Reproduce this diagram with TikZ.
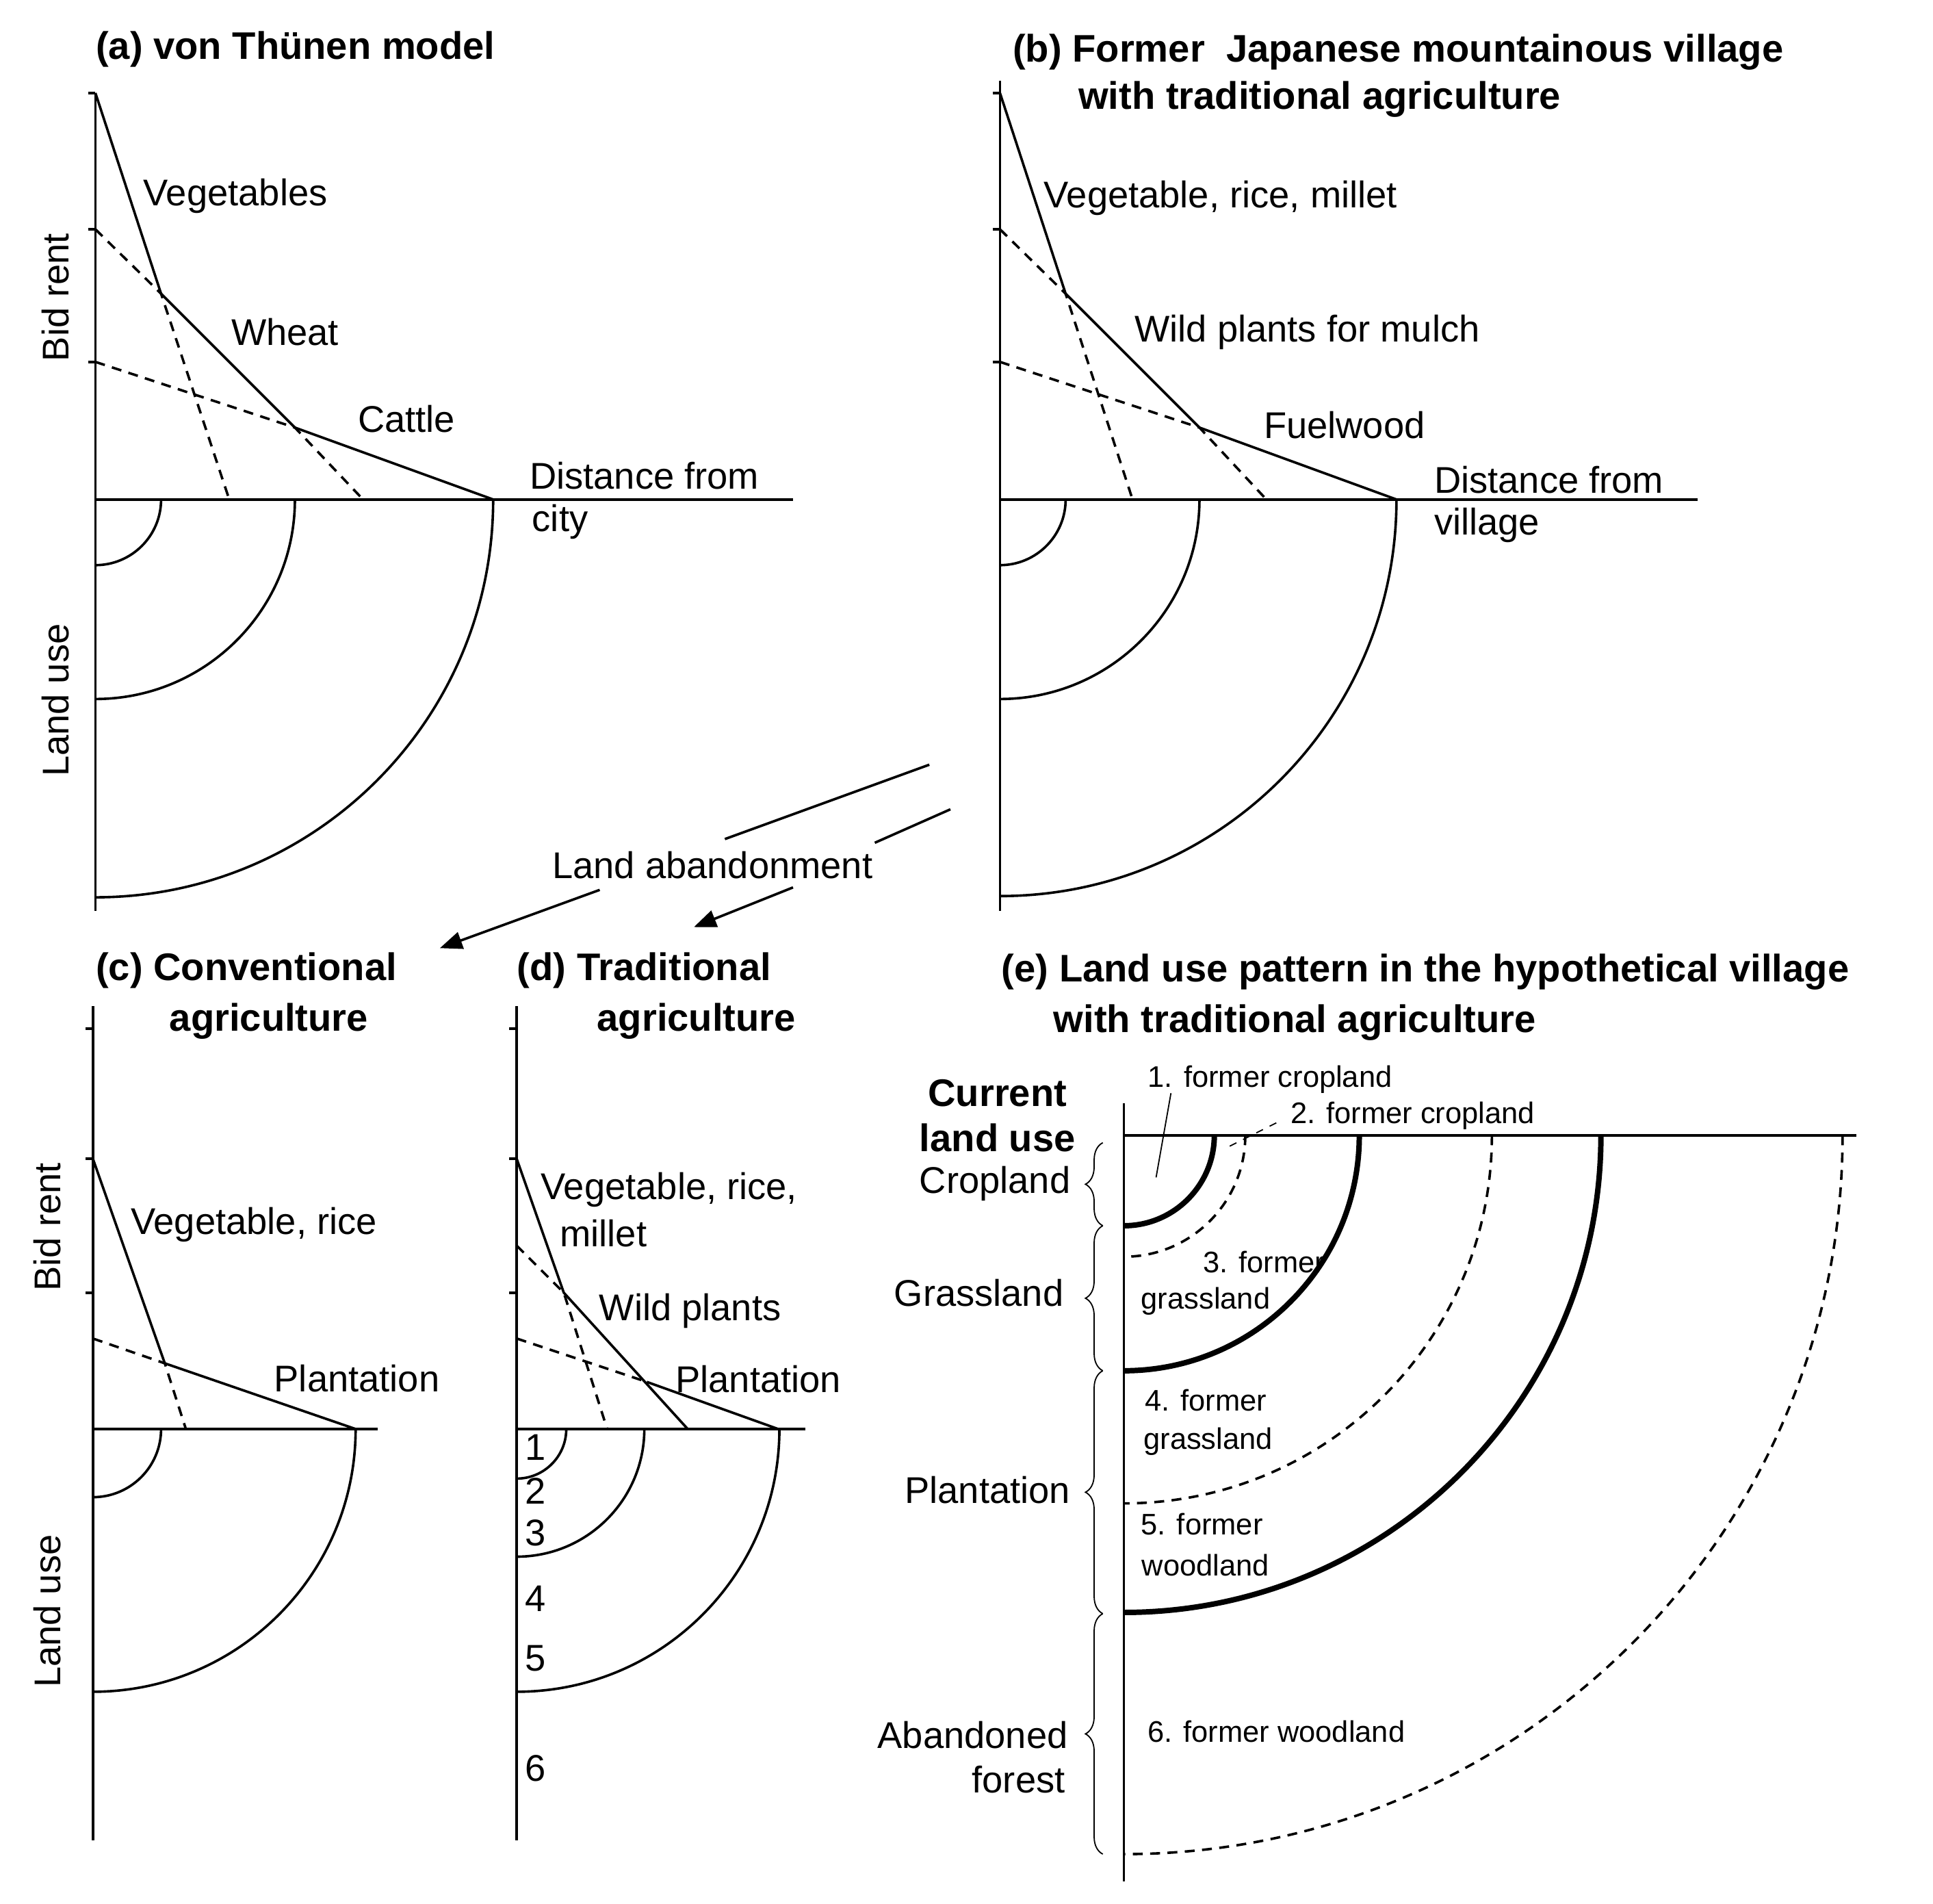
\documentclass[tikz,border=0pt]{standalone}
\usepackage{fontspec}
\setmainfont{Liberation Sans}
\usetikzlibrary{decorations.pathreplacing,arrows.meta}
\begin{document}
\begin{tikzpicture}[x=0.5pt,y=-0.5pt,
  ln/.style={line width=1pt},
  dl/.style={line width=1pt,dash pattern=on 4pt off 3pt},
  tk/.style={line width=2.2pt},
  lab/.style={font=\fontsize{15}{18}\selectfont,inner sep=0pt},
  sm/.style={font=\fontsize{12}{14}\selectfont,inner sep=0pt},
  ttl/.style={font=\fontsize{15.5}{18}\selectfont\bfseries,inner sep=0pt,anchor=west},
  br/.style={decorate,decoration={brace,amplitude=7pt},line width=0.5pt}]
\useasboundingbox (0,0) rectangle (1560,1536);
% ===== (a)
\node[ttl] (ta) at (77,40) {(a) von Thünen model};
\draw[ln] (77,75)--(77,735); \draw[ln] (77,403)--(640,403);
\foreach \y in {75,185,292} \draw[ln] (71,\y)--(77,\y);
\draw[ln] (77,75)--(130,237)--(238,345)--(398,403);
\draw[dl] (77,185)--(130,237)--(185,403);
\draw[dl] (77,292)--(238,345)--(293,403);
\foreach \r in {53,161,321} \draw[ln] (77+\r,403) arc (0:90:\r);
\node[lab] at (190,158) {Vegetables};
\node[lab] at (230,268) {Wheat};
\node[lab] at (328,338) {Cattle};
\node[lab] at (520,384) {Distance from};
\node[lab] at (452,421) {city};
\node[lab,rotate=90] at (45,240) {Bid rent};
\node[lab,rotate=90] at (45,565) {Land use};
% ===== (b)
\node[ttl] at (817,42) {(b) Former\ \ Japanese mountainous village};
\node[ttl] at (870,80) {with traditional agriculture};
\draw[ln] (807,65)--(807,735); \draw[ln] (807,403)--(1370,403);
\foreach \y in {75,185,292} \draw[ln] (801,\y)--(807,\y);
\draw[ln] (807,75)--(860,237)--(968,345)--(1127,403);
\draw[dl] (807,185)--(860,237)--(914,403);
\draw[dl] (807,292)--(968,345)--(1022,403);
\foreach \r in {53,161,320} \draw[ln] (807+\r,403) arc (0:90:\r);
\node[lab] at (985,160) {Vegetable, rice, millet};
\node[lab] at (1055,268) {Wild plants for mulch};
\node[lab] at (1085,343) {Fuelwood};
\node[lab] at (1250,387) {Distance from};
\node[lab] at (1200,424) {village};
% ===== arrows
\node[lab] (la) at (575,698) {Land abandonment};
\draw[ln] (750,617)--(585,677);
\draw[ln] (767,653)--(706,680);
\draw[ln,-{Triangle[length=9pt,width=7pt]}] (484,718)--(355,765);
\draw[ln,-{Triangle[length=9pt,width=7pt]}] (640,716)--(560,748);
% ===== (c)
\node[ttl] at (77,783) {(c) Conventional};
\node[ttl,anchor=center] at (217,824) {agriculture};
\draw[ln] (75,812)--(75,1485); \draw[ln] (75,1153)--(305,1153);
\foreach \y in {830,935,1043} \draw[ln] (69,\y)--(75,\y);
\draw[ln] (75,935)--(133,1100)--(287,1153);
\draw[dl] (75,1080)--(133,1100)--(150,1153);
\foreach \r in {55,212} \draw[ln] (75+\r,1153) arc (0:90:\r);
\node[lab] at (205,988) {Vegetable, rice};
\node[lab] at (288,1112) {Plantation};
\node[lab,rotate=90] at (38,990) {Bid rent};
\node[lab,rotate=90] at (38,1300) {Land use};
% ===== (d)
\node[ttl] at (417,783) {(d) Traditional};
\node[ttl,anchor=center] at (562,824) {agriculture};
\draw[ln] (417,812)--(417,1485); \draw[ln] (417,1153)--(650,1153);
\foreach \y in {830,935,1043} \draw[ln] (411,\y)--(417,\y);
\draw[ln] (417,935)--(455,1043)--(555,1153);
\draw[ln] (522,1115)--(628,1153);
\draw[dl] (417,1005)--(455,1043)--(490,1153);
\draw[dl] (417,1080)--(522,1115);
\foreach \r in {40,103,212} \draw[ln] (417+\r,1153) arc (0:90:\r);
\foreach \n/\y in {1/1168,2/1203,3/1237,4/1290,5/1338,6/1427} \node[lab] at (432,\y) {\n};
\node[lab] at (540,960) {Vegetable, rice,};
\node[lab] at (487,995) {millet};
\node[lab] at (557,1058) {Wild plants};
\node[lab] at (612,1113) {Plantation};
% ===== (e)
\node[ttl] at (808,784) {(e) Land use pattern in the hypothetical village};
\node[ttl] at (850,825) {with traditional agriculture};
\draw[ln] (907,890)--(907,1518); \draw[ln] (907,916)--(1498,916);
\foreach \r in {73,190,385} \draw[tk] (907+\r,916) arc (0:90:\r);
\foreach \r in {98,297,580} \draw[dl] (907+\r,916) arc (0:90:\r);
\node[lab,font=\fontsize{15.5}{18}\selectfont\bfseries] at (805,882) {Current};
\node[lab,font=\fontsize{15.5}{18}\selectfont\bfseries] at (805,918) {land use};
\draw[br] (890,989)--(890,922);
\draw[br] (890,1106)--(890,989);
\draw[br] (890,1302)--(890,1106);
\draw[br] (890,1496)--(890,1302);
\node[lab] at (803,955) {Cropland};
\node[lab] at (790,1043) {Grassland};
\node[lab] at (797,1202) {Plantation};
\node[lab] at (785,1400) {Abandoned};
\node[lab] at (822,1436) {forest};
\node[sm] at (1025,871) {1. former cropland};
\draw[line width=0.5pt] (945,882)--(933,950);
\node[sm] at (1140,900) {2. former cropland};
\draw[line width=0.5pt,dashed] (1030,906)--(992,925);
\node[sm] at (1020,1018) {3. former};
\node[sm] at (973,1050) {grassland};
\node[sm] at (973,1130) {4. former};
\node[sm] at (975,1163) {grassland};
\node[sm] at (970,1230) {5. former};
\node[sm] at (973,1263) {woodland};
\node[sm] at (1030,1397) {6. former woodland};
\end{tikzpicture}
\end{document}
